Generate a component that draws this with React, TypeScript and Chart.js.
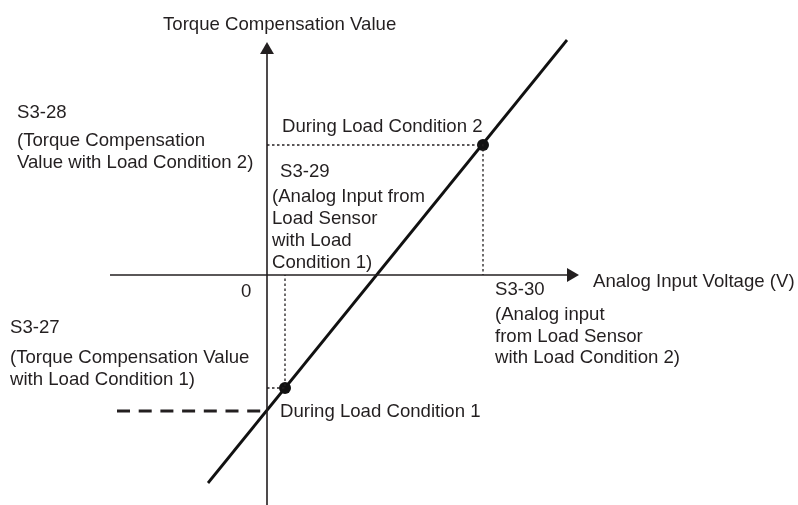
import React, { useEffect, useRef } from "react";
import { Chart, registerables } from "chart.js";

Chart.register(...registerables);

// Scale ranges (data units, origin at the axes' crossing)
const X_MIN = -267;
const X_MAX = 531;
const Y_MIN = -230;
const Y_MAX = 275;

// Characteristic line (torque compensation vs analog input)
const responseX = [-59, 300];
const responseY = [-208, 235];

// Load condition points (1 and 2)
const pointX = [18, 216];
const pointY = [-113, 130];

// Axis extents
const xAxisX = [-157, 300];
const yAxisY = [222, -230];

// Arrow heads
const arrowX = [304, 0];
const arrowY = [0, 225];
const arrowRotation = [90, 0];

// Dashed offset level (value at zero input)
const offsetX = [-150, 0];
const offsetLevel = -136;

// Text annotations
const labelTexts = [
  "Torque Compensation Value",
  "S3-28",
  "(Torque Compensation",
  "Value with Load Condition 2)",
  "During Load Condition 2",
  "S3-29",
  "(Analog Input from",
  "Load Sensor",
  "with Load",
  "Condition 1)",
  "0",
  "Analog Input Voltage (V)",
  "S3-30",
  "(Analog input",
  "from Load Sensor",
  "with Load Condition 2)",
  "S3-27",
  "(Torque Compensation Value",
  "with Load Condition 1)",
  "During Load Condition 1",
];
const labelX = [-104, -250, -250, -250, 15, 13, 5, 5, 5, 5, -26, 326, 228, 228, 228, 228, -257, -257, -257, 13];
const labelY = [245, 157, 129, 107, 143, 98, 73, 51, 29, 7, -22, -12, -20, -45, -67, -88, -58, -88, -110, -142];

const INK = "#231f20";

const labelPlugin = {
  id: "diagramLabels",
  afterDatasetsDraw(chart: any) {
    const { ctx, scales } = chart;
    ctx.save();
    ctx.fillStyle = INK;
    ctx.font = '18.6px "Liberation Sans", Arial, sans-serif';
    ctx.textAlign = "left";
    ctx.textBaseline = "alphabetic";
    labelTexts.forEach((t, i) => {
      ctx.fillText(t, scales.x.getPixelForValue(labelX[i]), scales.y.getPixelForValue(labelY[i]));
    });
    ctx.restore();
  },
};

const seg = (xs: number[], ys: number[]) => xs.map((x, i) => ({ x, y: ys[i] }));

export default function App() {
  const ref = useRef<HTMLCanvasElement | null>(null);

  useEffect(() => {
    if (!ref.current) return;
    const lineBase = {
      showLine: true,
      pointRadius: 0,
      pointHoverRadius: 0,
      fill: false,
      tension: 0,
      borderColor: INK,
    };
    const chart = new Chart(ref.current, {
      type: "scatter",
      data: {
        datasets: [
          {
            ...lineBase,
            label: "x axis",
            data: seg(xAxisX, [0, 0]),
            borderWidth: 1.6,
          },
          {
            ...lineBase,
            label: "y axis",
            data: seg([0, 0], yAxisY),
            borderWidth: 1.6,
          },
          {
            ...lineBase,
            label: "offset",
            data: seg(offsetX, [offsetLevel, offsetLevel]),
            borderWidth: 2.8,
            borderDash: [13, 8.7],
          },
          {
            ...lineBase,
            label: "cond1 guide",
            data: [
              { x: 0, y: pointY[0] },
              { x: pointX[0], y: pointY[0] },
              { x: pointX[0], y: 0 },
            ],
            borderWidth: 1.3,
            borderDash: [2.5, 2.5],
          },
          {
            ...lineBase,
            label: "cond2 guide",
            data: [
              { x: 0, y: pointY[1] },
              { x: pointX[1], y: pointY[1] },
              { x: pointX[1], y: 0 },
            ],
            borderWidth: 1.3,
            borderDash: [2.5, 2.5],
          },
          {
            ...lineBase,
            label: "response",
            data: seg(responseX, responseY),
            borderWidth: 2.8,
            borderColor: "#111",
          },
          {
            label: "points",
            data: seg(pointX, pointY),
            pointRadius: 6,
            pointBackgroundColor: "#111",
            pointBorderWidth: 0,
            showLine: false,
          },
          {
            label: "arrows",
            data: seg(arrowX, arrowY),
            pointStyle: "triangle",
            pointRadius: 8,
            rotation: arrowRotation,
            pointBackgroundColor: INK,
            pointBorderColor: INK,
            pointBorderWidth: 0,
            showLine: false,
          } as any,
        ],
      },
      options: {
        animation: false,
        responsive: false,
        maintainAspectRatio: false,
        layout: { padding: 0, autoPadding: false },
        events: [],
        plugins: {
          legend: { display: false },
          tooltip: { enabled: false },
          title: { display: false },
        },
        scales: {
          x: { type: "linear", min: X_MIN, max: X_MAX, display: false },
          y: { type: "linear", min: Y_MIN, max: Y_MAX, display: false },
        },
      },
      plugins: [labelPlugin],
    });
    return () => chart.destroy();
  }, []);

  return (
    <div style={{ position: "absolute", left: 0, top: 0, width: 798, height: 505, background: "#fff" }}>
      <canvas ref={ref} width={798} height={505} style={{ display: "block" }} />
    </div>
  );
}
